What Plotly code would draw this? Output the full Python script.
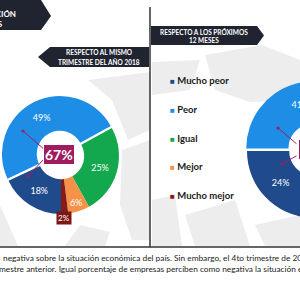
import plotly.graph_objects as go

# ---------------- data ----------------
categories = ["Mucho peor", "Peor", "Igual", "Mejor", "Mucho mejor"]
colors = ["#1f4a8c", "#1d8de6", "#14a84e", "#f5924a", "#861a17"]
values_2018 = [18, 49, 25, 6, 2]          # respecto al mismo trimestre del año 2018
values_next12 = [24, 41, 28, 5, 2]        # respecto a los próximos 12 meses (only first two visible)
title_left = ["RESPECTO AL MISMO", "TRIMESTRE DEL AÑO 2018"]
title_right = ["RESPECTO A LOS PRÓXIMOS", "12 MESES"]
header_lines = ["SITUACIÓN", "EMPRESAS"]
footer_lines = [
    "negativa sobre la situación económica del país. Sin embargo, el 4to trimestre de 2019 mostró una mejora",
    "mestre anterior. Igual porcentaje de empresas perciben como negativa la situación económica del país",
]

W, H = 384, 300
DARK = "#1f2430"
MAG = "#a01c60"
PULL = 0.04

fig = go.Figure()

# invisible pixel-space axes for decorations
fig.add_trace(go.Scatter(x=[None], y=[None], showlegend=False, hoverinfo="skip"))


def add_donut(values, cx, cy, r, hole, rotation, min_label):
    half = r * (1 + PULL)
    pulls = [0, PULL, 0, 0, 0]
    text = [f"{v}%" if v >= min_label else "" for v in values]
    fig.add_trace(go.Pie(
        values=values, labels=categories, sort=False, direction="clockwise",
        rotation=rotation, hole=hole, pull=pulls,
        marker=dict(colors=colors, line=dict(color="white", width=0)),
        text=text, textinfo="text", textposition="inside",
        insidetextorientation="horizontal",
        textfont=dict(color="white", size=9, family="Lato"),
        showlegend=False, hoverinfo="skip",
        domain=dict(x=[(cx - half) / W, (cx + half) / W],
                    y=[1 - (cy + half) / H, 1 - (cy - half) / H]),
    ))


add_donut(values_2018, 61, 156, 58, 0.40, 180, 5)
add_donut(values_next12, 314, 151, 67, 0.37, 270 - values_next12[0] * 3.6, 5)

shapes = []
# watermark
wm = [
    "M 88,80 L 150,72 L 150,130 L 128,140 L 112,100 Z",
    "M 122,150 L 150,140 L 150,240 L 132,240 L 120,205 Z",
    "M 0,205 L 18,246 L 0,246 Z",
    "M 65,246 L 80,225 L 110,232 L 105,246 Z",
    "M 152,62 L 200,60 L 190,90 L 152,95 Z",
    "M 205,55 L 262,45 L 300,60 L 300,100 L 250,102 L 215,90 Z",
    "M 152,200 L 175,195 L 182,246 L 152,246 Z",
    "M 185,215 L 235,200 L 250,246 L 195,246 Z",
    "M 255,225 L 300,215 L 300,246 L 265,246 Z",
]
for p in wm:
    shapes.append(dict(type="path", path=p, fillcolor="#ededed", line=dict(width=0),
                       xref="x", yref="y", layer="below"))
# banners
for p in [
    "M 0,0 L 41,0 L 51,16 L 41,30 L 0,30 Z",
    "M 38,57 L 50,47 L 149,47 L 149,67 L 50,67 Z",
    "M 151,26 L 257,26 L 264,35.5 L 257,45 L 151,45 Z",
]:
    shapes.append(dict(type="path", path=p, fillcolor=DARK, line=dict(width=0),
                       xref="x", yref="y", layer="above"))
# separators
shapes.append(dict(type="line", x0=150, x1=150, y0=7, y1=247, xref="x", yref="y",
                   line=dict(color="#333333", width=1.5)))
shapes.append(dict(type="line", x0=0, x1=W, y0=247, y1=247, xref="x", yref="y",
                   line=dict(color="#333333", width=1.5)))

ann = []
def txt(x, y, t, size=7, color="white", xanchor="center", family="Lato", **kw):
    ann.append(dict(x=x, y=y, xref="x", yref="y", text=t, showarrow=False,
                    xanchor=xanchor, yanchor="middle",
                    font=dict(size=size, color=color, family=family), **kw))

# header
txt(18, 14, f"<b>{header_lines[0]}</b>", size=8, xanchor="right")
txt(5, 24, f"<b>{header_lines[1]}</b>", size=8, xanchor="right")
# subtitle banners
txt(99, 52.5, f"<b>{title_left[0]}</b>", size=6.5)
txt(99, 61.5, f"<b>{title_left[1]}</b>", size=6.5)
txt(204, 31.5, f"<b>{title_right[0]}</b>", size=6.5)
txt(204, 40, f"<b>{title_right[1]}</b>", size=6.5)

# legend
leg_y = [80, 109, 138, 166, 195]
for cat, col, y in zip(categories, colors, leg_y):
    txt(168, y, f"<span style='color:{col};font-size:8px'>■</span> <b>{cat}</b>",
        size=9.5, color="#1a1a1a", xanchor="left")

# arrows to boxes
def arrow(hx, hy, tx, ty):
    ann.append(dict(x=hx, y=hy, ax=tx, ay=ty, xref="x", yref="y", axref="x", ayref="y",
                    text="", showarrow=True, arrowhead=6, arrowsize=0.8, arrowwidth=1,
                    arrowcolor=MAG, standoff=0))
arrow(23, 131, 45, 150)
arrow(28, 176, 45, 158)
arrow(278, 128, 298, 145)
arrow(282, 164, 298, 155)

# centre boxes
txt(59, 154, f"<b>{values_2018[0] + values_2018[1]}%</b>", size=14,
    bgcolor=MAG, bordercolor="white", borderwidth=1, borderpad=1)
txt(314, 149, f"<b>{values_next12[0] + values_next12[1]}%</b>", size=14,
    bgcolor=MAG, bordercolor="white", borderwidth=1, borderpad=1)
# small slice label
txt(64, 217.5, f"{values_2018[4]}%", size=8, bgcolor="#7d1616", borderpad=1)

# footer
txt(1, 258, footer_lines[0], size=8.3, color="#222222", xanchor="left")
ann.append(dict(x=0, y=268.5, xref="x", yref="y", text=footer_lines[1], showarrow=False,
                xanchor="left", yanchor="middle", xshift=-3,
                font=dict(size=8.3, color="#222222", family="Lato")))

fig.update_layout(
    width=W, height=H, margin=dict(l=0, r=0, t=0, b=0),
    paper_bgcolor="white", plot_bgcolor="rgba(0,0,0,0)",
    xaxis=dict(range=[0, W], visible=False, fixedrange=True),
    yaxis=dict(range=[H, 0], visible=False, fixedrange=True),
    shapes=shapes, annotations=ann, showlegend=False,
)

fig.write_html("out.html", config={"displayModeBar": False},
               post_script="document.documentElement.style.overflow='hidden';document.body.style.overflow='hidden';")
